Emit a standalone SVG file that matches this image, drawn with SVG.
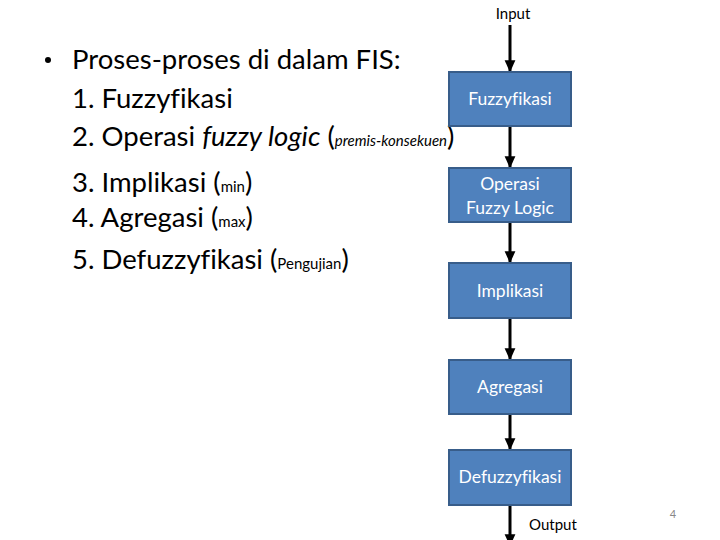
<svg xmlns="http://www.w3.org/2000/svg" width="720" height="540" viewBox="0 0 720 540">
<style>
text{font-variant-ligatures:none}
.main{font-family:Lato,"Open Sans",sans-serif;font-size:27.5px;fill:#000}
.sm{font-size:15px}
.box{fill:#4F81BD;stroke:#385D8A;stroke-width:2}
.bt{font-family:Lato,"Open Sans",sans-serif;font-size:17.5px;fill:#fff;text-anchor:middle}
.lbl{font-family:Lato,"Open Sans",sans-serif;font-size:15px;fill:#000}
.con{stroke:#000;stroke-width:3;fill:none;marker-end:url(#ah)}
</style>
<defs>
<marker id="ah" markerWidth="4" markerHeight="4" refX="3.6" refY="2" orient="auto" markerUnits="strokeWidth">
<path d="M0,0.2 L4,2 L0,3.8 Z" fill="#000"/>
</marker>
</defs>
<rect width="720" height="540" fill="#fff"/>
<g id="text-list">
<circle cx="48" cy="60" r="3" fill="#000"/>
<text class="main" x="72" y="69">Proses-proses di dalam FIS:</text>
<text class="main" x="72" y="108">1. Fuzzyfikasi</text>
<text class="main" x="72" y="146">2. Operasi <tspan font-style="italic">fuzzy logic</tspan> (<tspan class="sm" font-style="italic">premis-konsekuen</tspan>)</text>
<text class="main" x="72" y="192">3. Implikasi (<tspan class="sm">min</tspan>)</text>
<text class="main" x="72" y="227">4. Agregasi (<tspan class="sm">max</tspan>)</text>
<text class="main" x="72" y="269">5. Defuzzyfikasi (<tspan class="sm">Pengujian</tspan>)</text>
</g>
<g id="connectors">
<line class="con" x1="510" y1="25" x2="510" y2="71"/>
<line class="con" x1="510" y1="127" x2="510" y2="167"/>
<line class="con" x1="510" y1="223" x2="510" y2="262"/>
<line class="con" x1="510" y1="319" x2="510" y2="359"/>
<line class="con" x1="510" y1="415" x2="510" y2="449"/>
<line class="con" x1="510" y1="506" x2="510" y2="545"/>
</g>
<g id="input"><text class="lbl" x="513" y="19" text-anchor="middle">Input</text></g>
<g id="fuzzyfikasi"><rect class="box" x="449" y="72" width="122" height="54"/><text class="bt" x="510" y="105">Fuzzyfikasi</text></g>
<g id="operasi"><rect class="box" x="449" y="168" width="122" height="54"/><text class="bt" x="510" y="190">Operasi</text><text class="bt" x="510" y="214">Fuzzy Logic</text></g>
<g id="implikasi"><rect class="box" x="449" y="263" width="122" height="55"/><text class="bt" x="510" y="297">Implikasi</text></g>
<g id="agregasi"><rect class="box" x="449" y="360" width="122" height="54"/><text class="bt" x="510" y="393">Agregasi</text></g>
<g id="defuzzyfikasi"><rect class="box" x="449" y="450" width="122" height="55"/><text class="bt" x="510" y="483">Defuzzyfikasi</text></g>
<g id="output"><text class="lbl" x="529" y="530">Output</text></g>
<text x="673" y="518" font-family="Lato,sans-serif" font-size="11" fill="#888" text-anchor="middle">4</text>
</svg>
